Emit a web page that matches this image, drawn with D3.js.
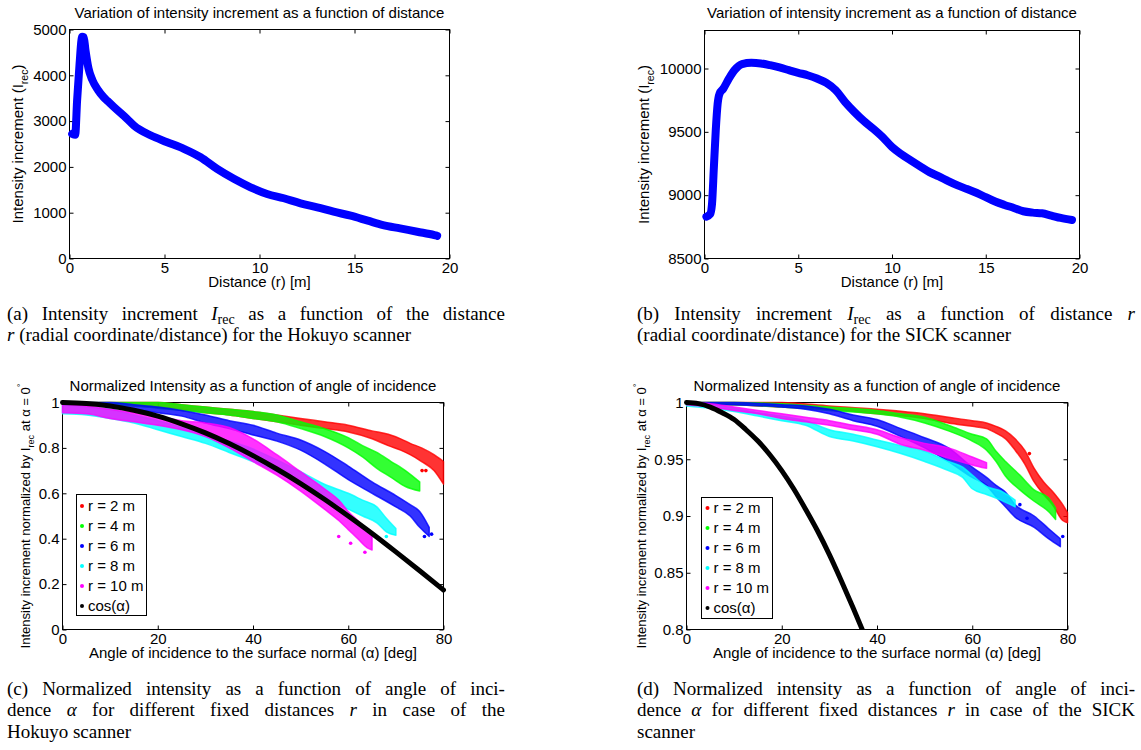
<!DOCTYPE html>
<html><head><meta charset="utf-8">
<script src="https://cdn.jsdelivr.net/npm/d3@7"></script>
<style>
body{margin:0;background:#fff}
svg{display:block}
text{font-family:"Liberation Sans",Arial,Helvetica,sans-serif}
.cap{font-family:"Liberation Serif","Times New Roman",serif;font-size:19px}
</style></head><body>
<svg id="fig" width="1141" height="750"></svg>
<script>
// ---------------- DATA ----------------
// (a) Hokuyo: intensity increment vs distance
const hokuyoDistance = [0.14,0.3,0.4,0.53,0.63,0.67,0.75,0.84,1.0,1.2,1.5,1.8,2.0,2.33,3.03,3.39,4.26,5.14,6.02,6.9,7.77,8.65,9.53,10.4,11.28,12.16,13.04,13.9,14.8,15.7,16.5,17.4,18.3,19.2,19.35];
const hokuyoIntensity = [2720,2700,3450,4250,4770,4840,4830,4550,4150,3900,3680,3520,3440,3310,3050,2905,2690,2540,2395,2210,1955,1740,1555,1410,1315,1205,1117,1022,934,825,730,657,584,511,495];
// (b) SICK: intensity increment vs distance
const sickDistance = [0.1,0.3,0.4,0.5,0.6,0.7,0.8,1.0,1.3,1.6,2.0,2.5,3.0,3.5,4.0,4.5,5.0,5.5,6.0,6.5,7.0,7.5,8.0,8.5,9.0,9.5,10.0,10.5,11.0,11.5,12.0,12.5,13.0,13.5,14.0,14.5,15.0,15.5,16.0,16.5,17.0,17.5,18.0,18.5,19.0,19.6];
const sickIntensity = [8830,8850,8930,9220,9510,9720,9800,9840,9920,9987,10035,10045,10040,10026,10008,9987,9966,9947,9921,9886,9828,9735,9656,9585,9524,9458,9380,9323,9275,9228,9182,9148,9111,9077,9048,9019,8984,8950,8923,8899,8873,8862,8857,8839,8820,8804];

// (c) Hokuyo normalized intensity: [angle, lower edge, upper edge] of each scatter band
const hokuyoR2 = [[0,0.99,1.0],[5,0.99,1.0],[10,0.99,1.0],[15,0.985,1.0],[20,0.98,1.0],[25,0.97,0.99],[30,0.955,0.98],[35,0.945,0.97],[40,0.93,0.96],[45,0.915,0.945],[50,0.90,0.93],[55,0.885,0.915],[60,0.87,0.90],[65,0.84,0.875],[68.4,0.81,0.86],[71,0.79,0.84],[73,0.77,0.82],[75.4,0.74,0.80],[78,0.70,0.77],[80,0.64,0.74]];
const hokuyoR4 = [[0,0.99,1.0],[10,0.99,1.0],[15,0.985,1.0],[20,0.975,1.0],[25,0.965,0.99],[30,0.955,0.98],[35,0.945,0.97],[40,0.93,0.96],[45,0.915,0.945],[50,0.885,0.915],[55,0.85,0.885],[60,0.80,0.845],[63,0.76,0.81],[66,0.71,0.78],[69,0.67,0.74],[72,0.63,0.70],[75,0.61,0.65]];
const hokuyoR6 = [[0,0.99,1.0],[5,0.99,1.0],[10,0.985,1.0],[15,0.97,0.99],[20,0.955,0.98],[25,0.94,0.965],[30,0.91,0.945],[35,0.885,0.92],[40,0.857,0.90],[45,0.83,0.865],[50,0.79,0.835],[55,0.73,0.785],[60,0.66,0.72],[65,0.60,0.65],[70,0.54,0.59],[73,0.50,0.55],[75,0.45,0.52],[77,0.41,0.45]];
const hokuyoR8 = [[0,0.95,0.99],[5,0.945,0.98],[10,0.93,0.97],[15,0.91,0.945],[20,0.88,0.92],[25,0.85,0.89],[30,0.82,0.857],[35,0.78,0.83],[40,0.74,0.795],[45,0.695,0.747],[50,0.637,0.695],[55,0.58,0.64],[60,0.53,0.60],[63,0.50,0.57],[66,0.47,0.54],[68,0.43,0.49],[70,0.415,0.445]];
const hokuyoR10 = [[0,0.955,0.995],[5,0.95,0.985],[10,0.93,0.97],[15,0.915,0.955],[20,0.90,0.94],[25,0.88,0.92],[30,0.85,0.91],[35,0.80,0.89],[40,0.74,0.84],[45,0.68,0.77],[50,0.61,0.695],[55,0.53,0.62],[58,0.48,0.57],[60,0.44,0.52],[62,0.40,0.48],[64,0.36,0.44],[65,0.35,0.42]];
// isolated points outside the bands: [series index, angle, value]
const hokuyoOutliers = [[0,75.5,0.70],[0,76.3,0.70],[2,76,0.41],[2,77.5,0.42],[3,68,0.41],[4,58,0.41],[4,60.5,0.38],[4,63.5,0.34]];
// (d) SICK normalized intensity bands
const sickR2 = [[0,0.999,1.0],[10,0.998,1.0],[20,0.996,1.0],[30,0.994,0.997],[40,0.99,0.994],[50,0.986,0.99],[55,0.982,0.987],[60,0.979,0.984],[63,0.977,0.982],[65,0.973,0.979],[67,0.968,0.975],[69,0.958,0.968],[71,0.946,0.958],[73,0.93,0.942],[75,0.919,0.93],[77,0.909,0.921],[79,0.896,0.91],[80,0.894,0.903]];
const sickR4 = [[0,0.999,1.0],[10,0.998,1.0],[20,0.996,0.999],[30,0.993,0.996],[40,0.99,0.993],[45,0.987,0.99],[50,0.982,0.987],[55,0.975,0.98],[60,0.966,0.972],[63,0.958,0.968],[65,0.948,0.957],[67,0.935,0.948],[70,0.923,0.936],[73,0.913,0.923],[76,0.904,0.916],[77.5,0.897,0.907]];
const sickR6 = [[0,0.999,1.0],[10,0.998,1.0],[20,0.996,0.998],[25,0.994,0.997],[30,0.99,0.994],[35,0.984,0.989],[40,0.979,0.985],[45,0.970,0.977],[50,0.960,0.969],[55,0.948,0.96],[60,0.934,0.943],[63,0.927,0.934],[65,0.917,0.927],[67,0.908,0.921],[69,0.899,0.91],[73,0.89,0.90],[76,0.88,0.889],[78.5,0.873,0.88]];
const sickR8 = [[0,0.997,0.999],[5,0.995,0.998],[10,0.992,0.995],[15,0.988,0.991],[20,0.984,0.988],[25,0.98,0.984],[30,0.97,0.976],[35,0.966,0.972],[40,0.961,0.967],[45,0.955,0.962],[50,0.948,0.957],[55,0.94,0.948],[58,0.934,0.943],[60,0.924,0.936],[63,0.919,0.926],[66,0.914,0.922],[69,0.908,0.914]];
const sickR10 = [[0,0.998,1.0],[5,0.996,0.999],[10,0.993,0.996],[15,0.99,0.993],[20,0.986,0.99],[25,0.983,0.987],[30,0.98,0.984],[35,0.976,0.98],[40,0.972,0.976],[45,0.963,0.969],[50,0.958,0.964],[55,0.951,0.96],[60,0.945,0.952],[63,0.942,0.947]];
const sickOutliers = [[0,72,0.955],[2,70,0.91],[2,71.5,0.898],[2,79,0.882]];
// cos(alpha) reference curve
const cosAngleC = [0,5,10,15,20,25,30,35,40,45,50,55,60,65,70,75,80];
const cosValueC = [1,0.996,0.985,0.966,0.940,0.906,0.866,0.819,0.766,0.707,0.643,0.574,0.500,0.423,0.342,0.259,0.174];
const cosAngleD = [0,2.5,5,7.5,10,12.5,15,17.5,20,22.5,25,27.5,30,32.5,35,36.9];
const cosValueD = [1,0.999,0.996,0.991,0.985,0.976,0.966,0.954,0.940,0.924,0.906,0.887,0.866,0.843,0.819,0.800];

const seriesLabels = ["r = 2 m","r = 4 m","r = 6 m","r = 8 m","r = 10 m","cos(\u03b1)"];
const seriesColors = ["#ff0000","#00ff00","#0000ff","#00ffff","#ff00ff","#000000"];

const distTicks = [0,5,10,15,20];
const hokuyoYTicks = [0,1000,2000,3000,4000,5000];
const sickYTicks = [8500,9000,9500,10000];
const angleTicks = [0,20,40,60,80];
const hokuyoNormTicks = [0,0.2,0.4,0.6,0.8,1];
const sickNormTicks = [0.8,0.85,0.9,0.95,1];

const titleDist = "Variation of intensity increment as a function of distance";
const titleAngle = "Normalized Intensity as a function of angle of incidence";
const xLabelDist = "Distance (r) [m]";
const xLabelAngle = "Angle of incidence to the surface normal (\u03b1) [deg]";

// ---------------- DRAW ----------------
const svg = d3.select('#fig');
svg.append('rect').attr('width',1141).attr('height',750).attr('fill','#fff');

function axesBox(p, x, y, xt, yt) {
  const g = svg.append('g');
  const ax = [
    [d3.axisBottom(x).tickValues(xt).tickSize(-4).tickPadding(4).tickFormat(String), `translate(0,${p.y1})`],
    [d3.axisTop(x).tickValues(xt).tickSize(-4).tickFormat(''), `translate(0,${p.y0})`],
    [d3.axisLeft(y).tickValues(yt).tickSize(-4).tickPadding(3).tickFormat(String), `translate(${p.x0},0)`],
    [d3.axisRight(y).tickValues(yt).tickSize(-4).tickFormat(''), `translate(${p.x1},0)`]
  ];
  ax.forEach(([a,tr]) => {
    const gg = g.append('g').attr('transform',tr).call(a);
    gg.select('.domain').remove();
    gg.selectAll('line').attr('stroke','#000').attr('stroke-width',1);
    gg.selectAll('text').attr('font-size',15).attr('font-family','"Liberation Sans",Arial,sans-serif').attr('fill','#000');
  });
  g.append('rect').attr('x',p.x0).attr('y',p.y0).attr('width',p.x1-p.x0).attr('height',p.y1-p.y0)
    .attr('fill','none').attr('stroke','#000').attr('stroke-width',1);
  return g;
}

function texts(p, title, xlabel, xlabY, titleY) {
  const cx = (p.x0+p.x1)/2;
  svg.append('text').attr('x',cx).attr('y',titleY).attr('text-anchor','middle').attr('font-size',15).text(title);
  svg.append('text').attr('x',cx).attr('y',xlabY).attr('text-anchor','middle').attr('font-size',15).text(xlabel);
}

function ylabel(p, bx, size, segs) {
  const cy = (p.y0+p.y1)/2;
  const t = svg.append('text').attr('transform',`translate(${bx},${cy}) rotate(-90)`).attr('text-anchor','middle').attr('font-size',size);
  let cur = 0;
  segs.forEach(s => {
    const shift = s.sub ? size*0.3 : s.sup ? -size*0.45 : 0;
    const ts = t.append('tspan').text(s.t).attr('dy', shift-cur);
    if (s.sub || s.sup) ts.attr('font-size', size*0.7);
    cur = shift;
  });
}

// Panel positions
const pA = {x0:69.5, x1:449.5, y0:29.5, y1:258.5};
const pB = {x0:704.5, x1:1079.5, y0:30.5, y1:258.5};
const pC = {x0:62.5, x1:443.5, y0:402.5, y1:629.5};
const pD = {x0:686.5, x1:1067.5, y0:402.5, y1:629.5};

const xA = d3.scaleLinear().domain([0,20]).range([pA.x0,pA.x1]);
const yA = d3.scaleLinear().domain([0,5000]).range([pA.y1,pA.y0]);
const xB = d3.scaleLinear().domain([0,20]).range([pB.x0,pB.x1]);
const yB = d3.scaleLinear().domain([8500,10300]).range([pB.y1,pB.y0]);
const xC = d3.scaleLinear().domain([0,80]).range([pC.x0,pC.x1]);
const yC = d3.scaleLinear().domain([0,1]).range([pC.y1,pC.y0]);
const xD = d3.scaleLinear().domain([0,80]).range([pD.x0,pD.x1]);
const yD = d3.scaleLinear().domain([0.8,1]).range([pD.y1,pD.y0]);

function distLine(xs, ys, x, y) {
  const pts = xs.map((d,i)=>[d, ys[i]]);
  const line = d3.line().x(d=>x(d[0])).y(d=>y(d[1])).curve(d3.curveMonotoneX);
  svg.append('path').attr('d', line(pts)).attr('fill','none').attr('stroke','#0000ff')
    .attr('stroke-width',8).attr('stroke-linejoin','round').attr('stroke-linecap','round');
}

axesBox(pA, xA, yA, distTicks, hokuyoYTicks);
distLine(hokuyoDistance, hokuyoIntensity, xA, yA);
texts(pA, titleDist, xLabelDist, 286.5, 18);
ylabel(pA, 23, 15, [{t:"Intensity increment (I"},{t:"rec",sub:true},{t:")"}]);

axesBox(pB, xB, yB, distTicks, sickYTicks);
distLine(sickDistance, sickIntensity, xB, yB);
texts(pB, titleDist, xLabelDist, 286.5, 18);
ylabel(pB, 649, 15, [{t:"Intensity increment (I"},{t:"rec",sub:true},{t:")"}]);

function clipFor(id, p) {
  svg.append('clipPath').attr('id',id).append('rect').attr('x',p.x0-3).attr('y',p.y0-3).attr('width',p.x1-p.x0+6).attr('height',p.y1-p.y0+3);
  return `url(#${id})`;
}

function bands(p, x, y, list, outliers, cosA, cosV, clipId) {
  const g = svg.append('g').attr('clip-path', clipFor(clipId, p));
  const area = d3.area().x(d=>x(d[0])).y0(d=>y(d[1])).y1(d=>y(d[2])).curve(d3.curveMonotoneX);
  list.forEach((data,i) => {
    const c = seriesColors[i];
    g.append('path').attr('d', area(data)).attr('fill', c).attr('fill-opacity',0.8)
      .attr('stroke', c).attr('stroke-opacity',0.8).attr('stroke-width',1.5).attr('stroke-linejoin','round');
    g.selectAll(null).data(outliers.filter(o=>o[0]===i)).enter().append('circle')
      .attr('cx',d=>x(d[1])).attr('cy',d=>y(d[2])).attr('r',1.8).attr('fill',c);
  });
  const line = d3.line().x(d=>x(d[0])).y(d=>y(d[1])).curve(d3.curveMonotoneX);
  g.append('path').attr('d', line(cosA.map((a,i)=>[a,cosV[i]]))).attr('fill','none')
    .attr('stroke','#000').attr('stroke-width',5).attr('stroke-linecap','round');
}

function legend(lx, ly, w, h, mx, tx, y0, dy) {
  const g = svg.append('g');
  g.append('rect').attr('x',lx).attr('y',ly).attr('width',w).attr('height',h).attr('fill','#fff').attr('stroke','#000').attr('stroke-width',1);
  seriesLabels.forEach((lab,i) => {
    const yy = y0 + i*dy;
    g.append('circle').attr('cx',mx).attr('cy',yy).attr('r',2).attr('fill',seriesColors[i]);
    g.append('text').attr('x',tx).attr('y',yy+5.3).attr('font-size',15).text(lab);
  });
}

axesBox(pC, xC, yC, angleTicks, hokuyoNormTicks);
bands(pC, xC, yC, [hokuyoR2,hokuyoR4,hokuyoR6,hokuyoR8,hokuyoR10], hokuyoOutliers, cosAngleC, cosValueC, 'clipC');
legend(76.5, 494.5, 70, 121, 82, 88, 506, 20);
texts(pC, titleAngle, xLabelAngle, 658, 391);
ylabel(pC, 30, 13, [{t:"Intensity increment normalized by I"},{t:"rec",sub:true},{t:" at \u03b1 = 0"},{t:"\u00b0",sup:true}]);

axesBox(pD, xD, yD, angleTicks, sickNormTicks);
bands(pD, xD, yD, [sickR2,sickR4,sickR6,sickR8,sickR10], sickOutliers, cosAngleD, cosValueD, 'clipD');
legend(701.5, 497.5, 71, 121, 707.5, 713.5, 508, 20);
texts(pD, titleAngle, xLabelAngle, 658, 391);
ylabel(pD, 646, 13, [{t:"Intensity increment normalized by I"},{t:"rec",sub:true},{t:" at \u03b1 = 0"},{t:"\u00b0",sup:true}]);

// ---------------- CAPTIONS ----------------
const captionA = [
  {j:true, s:[{t:"(a) Intensity increment "},{t:"I",it:true},{t:"rec",sub:true},{t:" as a function of the distance"}]},
  {j:false, s:[{t:"r",it:true},{t:" (radial coordinate/distance) for the Hokuyo scanner"}]}
];
const captionB = [
  {j:true, s:[{t:"(b) Intensity increment "},{t:"I",it:true},{t:"rec",sub:true},{t:" as a function of distance "},{t:"r",it:true}]},
  {j:false, s:[{t:"(radial coordinate/distance) for the SICK scanner"}]}
];
const captionC = [
  {j:true, s:[{t:"(c) Normalized intensity as a function of angle of inci-"}]},
  {j:true, s:[{t:"dence "},{t:"\u03b1",it:true},{t:" for different fixed distances "},{t:"r",it:true},{t:" in case of the"}]},
  {j:false, s:[{t:"Hokuyo scanner"}]}
];
const captionD = [
  {j:true, s:[{t:"(d) Normalized intensity as a function of angle of inci-"}]},
  {j:true, s:[{t:"dence "},{t:"\u03b1",it:true},{t:" for different fixed distances "},{t:"r",it:true},{t:" in case of the SICK"}]},
  {j:false, s:[{t:"scanner"}]}
];

function caption(x, y, lines, width) {
  lines.forEach((ln,i) => {
    const t = svg.append('text').attr('class','cap').attr('x',x).attr('y',y+i*21.6);
    let cur = 0;
    ln.s.forEach(s => {
      const shift = s.sub ? 4 : 0;
      const ts = t.append('tspan').text(s.t).attr('dy', shift-cur);
      if (s.it) ts.attr('font-style','italic');
      if (s.sub) ts.attr('font-size','14px');
      cur = shift;
    });
    if (ln.j) {
      const nat = t.node().getComputedTextLength();
      const full = ln.s.map(s=>s.t).join('');
      const n = (full.match(/ /g)||[]).length;
      if (n>0) t.attr('word-spacing', ((width-nat)/n).toFixed(2));
    }
  });
}
caption(7, 319.5, captionA, 498);
caption(637, 319.5, captionB, 498);
caption(7, 694.5, captionC, 498);
caption(637, 694.5, captionD, 498);
</script>
</body></html>
